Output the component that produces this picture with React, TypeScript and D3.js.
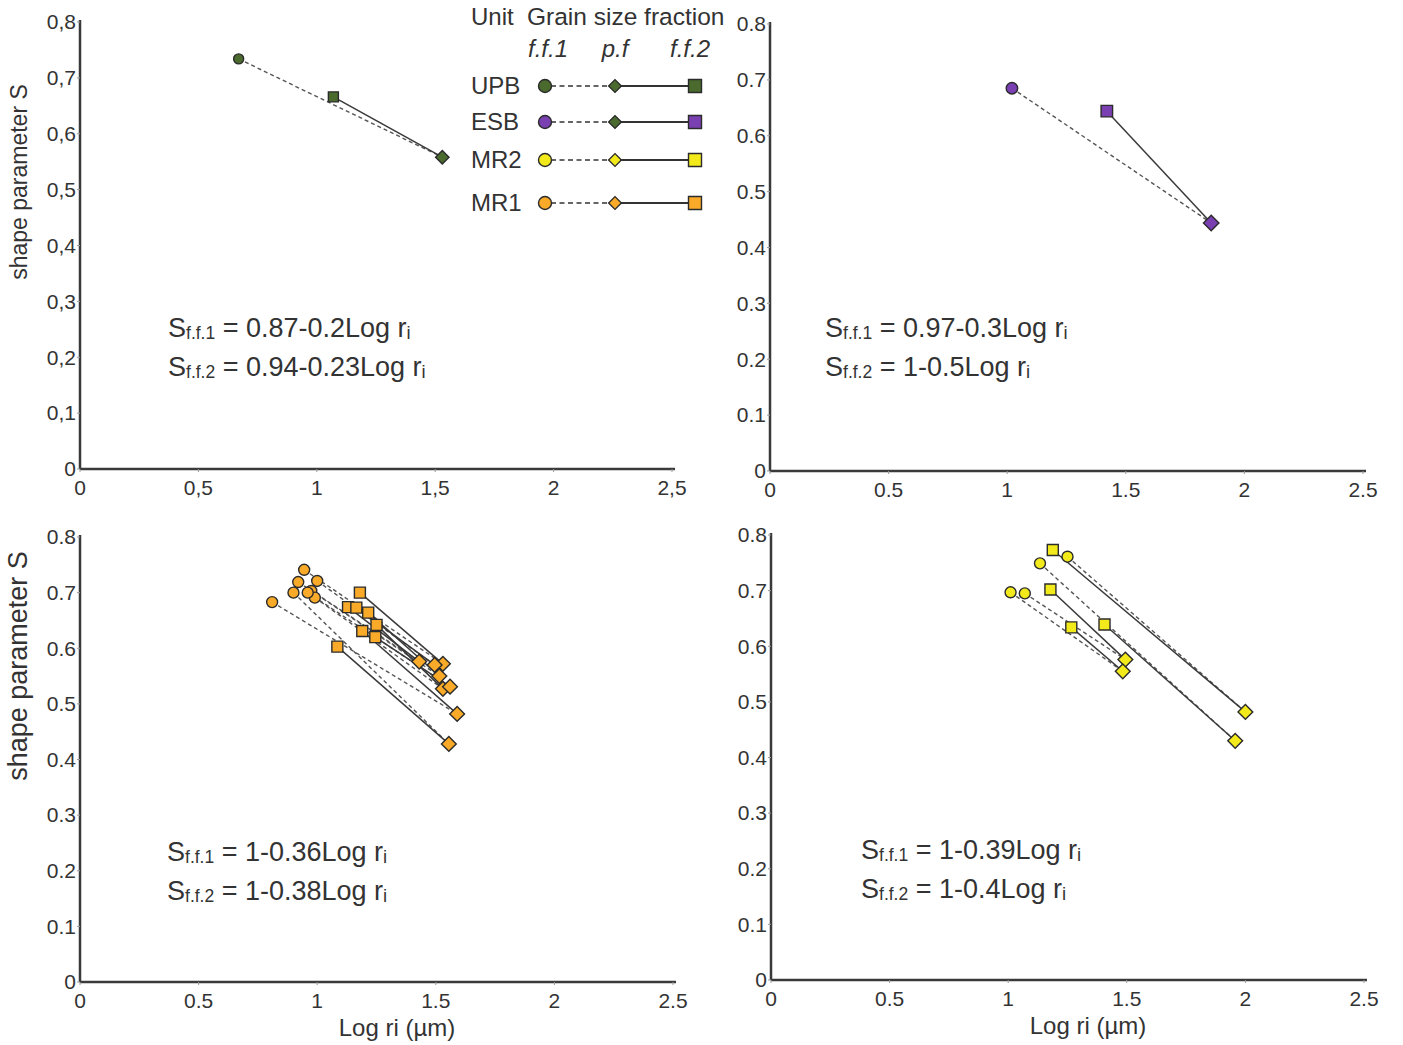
import * as d3 from 'd3';

// ---- data ----
// each sample: f.f.1 point (circle), p.f point (diamond), f.f.2 point (square)
const upbSamples = [
  { ff1: [0.67, 0.734], pf: [1.53, 0.558], ff2: [1.07, 0.666] },
];
const esbSamples = [
  { ff1: [1.02, 0.685], pf: [1.86, 0.444], ff2: [1.42, 0.644] },
];
const mr1Samples = [
  { ff1: [0.9, 0.7], pf: [1.555, 0.428], ff2: [1.085, 0.603] },
  { ff1: [0.81, 0.683], pf: [1.59, 0.482], ff2: [1.19, 0.631] },
  { ff1: [0.945, 0.741], pf: [1.53, 0.572], ff2: [1.18, 0.7] },
  { ff1: [0.92, 0.719], pf: [1.43, 0.576], ff2: [1.13, 0.674] },
  { ff1: [1.0, 0.721], pf: [1.495, 0.57], ff2: [1.165, 0.673] },
  { ff1: [0.975, 0.703], pf: [1.515, 0.55], ff2: [1.215, 0.664] },
  { ff1: [0.99, 0.691], pf: [1.53, 0.527], ff2: [1.25, 0.642] },
  { ff1: [0.96, 0.7], pf: [1.56, 0.531], ff2: [1.245, 0.62] },
];
const mr2Samples = [
  { ff1: [1.25, 0.761], pf: [2.0, 0.482], ff2: [1.188, 0.773] },
  { ff1: [1.134, 0.749], pf: [1.957, 0.43], ff2: [1.406, 0.639] },
  { ff1: [1.07, 0.695], pf: [1.494, 0.576], ff2: [1.178, 0.702] },
  { ff1: [1.01, 0.697], pf: [1.483, 0.555], ff2: [1.266, 0.634] },
];

const xTicks = [0, 0.5, 1, 1.5, 2, 2.5];
const yTicks = [0, 0.1, 0.2, 0.3, 0.4, 0.5, 0.6, 0.7, 0.8];

const legendUnits = ['UPB', 'ESB', 'MR2', 'MR1'];
const legendFF1 = ['#4a6a2e', '#7a40b2', '#f3ea1c', '#f8aa28'];
const legendPF = ['#4a6a2e', '#4a6a2e', '#f3ea1c', '#f8aa28'];
const legendFF2 = ['#4a6a2e', '#7a40b2', '#f3ea1c', '#f8aa28'];
const legendCols = ['f.f.1', 'p.f', 'f.f.2'];

const FONT = '"Liberation Sans", Arial, sans-serif';
const TXT = '#333';

type Sample = { ff1: number[]; pf: number[]; ff2: number[] };

const panels = [
  {
    key: 'upb', samples: upbSamples, color: '#4a6a2e', comma: true,
    x: [80, 672], y: [469, 22], sz: 1,
    eq: ['0.87-0.2Log r', '0.94-0.23Log r'], eqPos: [168, 337],
    yTitle: { size: 23, cy: 182 }, xTitle: false,
  },
  {
    key: 'esb', samples: esbSamples, color: '#7a40b2', comma: false,
    x: [770, 1363], y: [471, 24], sz: 1.15,
    eq: ['0.97-0.3Log r', '1-0.5Log r'], eqPos: [825, 337],
    yTitle: null, xTitle: false,
  },
  {
    key: 'mr1', samples: mr1Samples, color: '#f8aa28', comma: false,
    x: [80, 673], y: [982, 537], sz: 1.1,
    eq: ['1-0.36Log r', '1-0.38Log r'], eqPos: [167, 861],
    yTitle: { size: 27, cy: 666 }, xTitle: true,
  },
  {
    key: 'mr2', samples: mr2Samples, color: '#f3ea1c', comma: false,
    x: [771, 1364], y: [980, 535], sz: 1.1,
    eq: ['1-0.39Log r', '1-0.4Log r'], eqPos: [861, 859],
    yTitle: null, xTitle: true,
  },
];

const circlePath = (r: number) => d3.symbol().type(d3.symbolCircle).size(Math.PI * r * r)()!;
const squarePath = (s: number) => d3.symbol().type(d3.symbolSquare).size(s * s)()!;

function Marker({ kind, x, y, fill, k }: { kind: string; x: number; y: number; fill: string; k: number }) {
  const common = { fill, stroke: '#2b2b2b', strokeWidth: 1.4 };
  if (kind === 'c') return <path d={circlePath(5 * k)} transform={`translate(${x},${y})`} {...common} />;
  if (kind === 's') return <path d={squarePath(10 * k)} transform={`translate(${x},${y})`} {...common} />;
  return <path d={squarePath(9.5 * k)} transform={`translate(${x},${y}) rotate(45)`} {...common} />;
}

function Equation({ x, y, sub, body }: { x: number; y: number; sub: string; body: string }) {
  return (
    <text x={x} y={y} fontFamily={FONT} fontSize={27} fill={TXT}>
      <tspan>S</tspan>
      <tspan fontSize={17.5} dy={2}>{sub}</tspan>
      <tspan fontSize={27} dy={-2}>{' = ' + body}</tspan>
      <tspan fontSize={18.5} dy={2}>i</tspan>
    </text>
  );
}

function Panel({ p }: { p: (typeof panels)[number] }) {
  const xs = d3.scaleLinear().domain([0, 2.5]).range(p.x);
  const ys = d3.scaleLinear().domain([0, 0.8]).range(p.y);
  const fmt = (v: number) => {
    const s = d3.format('~g')(v);
    return p.comma ? s.replace('.', ',') : s;
  };
  const x0 = xs(0), y0 = ys(0);
  return (
    <g>
      {/* axes */}
      <line x1={x0} x2={x0} y1={y0} y2={ys(0.8) - 2} stroke="#3a3a3a" strokeWidth={2.5} />
      <line x1={x0} x2={xs(2.5) + 3} y1={y0} y2={y0} stroke="#3a3a3a" strokeWidth={2.5} />
      {yTicks.map(t => (
        <g key={'y' + t}>
          <line x1={x0 - 3} x2={x0} y1={ys(t)} y2={ys(t)} stroke="#999" strokeWidth={1} />
          <text x={x0 - 4} y={ys(t)} dy="0.35em" textAnchor="end" fontFamily={FONT} fontSize={21} fill={TXT}>
            {fmt(t)}
          </text>
        </g>
      ))}
      {xTicks.map(t => (
        <g key={'x' + t}>
          <line x1={xs(t)} x2={xs(t)} y1={y0} y2={y0 + 3} stroke="#999" strokeWidth={1} />
          <text x={xs(t)} y={y0 + 26} textAnchor="middle" fontFamily={FONT} fontSize={21} fill={TXT}>
            {fmt(t)}
          </text>
        </g>
      ))}
      {p.yTitle && (
        <text
          transform={`translate(${x0 - 53},${p.yTitle.cy}) rotate(-90)`}
          textAnchor="middle" fontFamily={FONT} fontSize={p.yTitle.size} fill={TXT}
        >
          shape parameter S
        </text>
      )}
      {p.xTitle && (
        <text x={x0 + 317} y={y0 + 54} textAnchor="middle" fontFamily={FONT} fontSize={24} fill={TXT}>
          Log ri (µm)
        </text>
      )}
      {/* connecting lines */}
      {(p.samples as Sample[]).map((s, i) => (
        <g key={'l' + i}>
          <line x1={xs(s.ff1[0])} y1={ys(s.ff1[1])} x2={xs(s.pf[0])} y2={ys(s.pf[1])}
            stroke="#555" strokeWidth={1.4} strokeDasharray="4,3" />
          <line x1={xs(s.ff2[0])} y1={ys(s.ff2[1])} x2={xs(s.pf[0])} y2={ys(s.pf[1])}
            stroke="#3a3a3a" strokeWidth={1.5} />
        </g>
      ))}
      {(p.samples as Sample[]).map((s, i) => (
        <g key={'m' + i}>
          <Marker kind="c" x={xs(s.ff1[0])} y={ys(s.ff1[1])} fill={p.color} k={p.sz} />
          <Marker kind="s" x={xs(s.ff2[0])} y={ys(s.ff2[1])} fill={p.color} k={p.sz} />
          <Marker kind="d" x={xs(s.pf[0])} y={ys(s.pf[1])} fill={p.color} k={p.sz} />
        </g>
      ))}
      <Equation x={p.eqPos[0]} y={p.eqPos[1]} sub="f.f.1" body={p.eq[0]} />
      <Equation x={p.eqPos[0]} y={p.eqPos[1] + 39} sub="f.f.2" body={p.eq[1]} />
    </g>
  );
}

function Legend() {
  const rowY = [86, 122, 160, 203];
  const colX = [545, 615, 695];
  return (
    <g fontFamily={FONT} fill={TXT}>
      <text x={471} y={25} fontSize={24}>Unit</text>
      <text x={527} y={25} fontSize={24.5}>Grain size fraction</text>
      {legendCols.map((c, i) => (
        <text key={c} x={colX[i] + (i === 0 ? 3 : i === 2 ? -5 : 0)} y={57} fontSize={24}
          fontStyle="italic" textAnchor="middle">{c}</text>
      ))}
      {legendUnits.map((u, i) => (
        <g key={u}>
          <text x={471} y={rowY[i]} dy="0.35em" fontSize={24}>{u}</text>
          <line x1={colX[0] + 6} x2={colX[1] - 6} y1={rowY[i]} y2={rowY[i]} stroke="#333" strokeWidth={1.6} strokeDasharray="5,3.5" />
          <line x1={colX[1] + 6} x2={colX[2] - 6} y1={rowY[i]} y2={rowY[i]} stroke="#333" strokeWidth={1.8} />
          <Marker kind="c" x={colX[0]} y={rowY[i]} fill={legendFF1[i]} k={1.3} />
          <Marker kind="d" x={colX[1]} y={rowY[i]} fill={legendPF[i]} k={0.95} />
          <Marker kind="s" x={colX[2]} y={rowY[i]} fill={legendFF2[i]} k={1.3} />
        </g>
      ))}
    </g>
  );
}

export default function App() {
  return (
    <svg width={1403} height={1045} style={{ position: 'absolute', left: 0, top: 0, background: '#fff' }}>
      <rect width={1403} height={1045} fill="#fff" />
      {panels.map(p => <Panel key={p.key} p={p} />)}
      <Legend />
    </svg>
  );
}
